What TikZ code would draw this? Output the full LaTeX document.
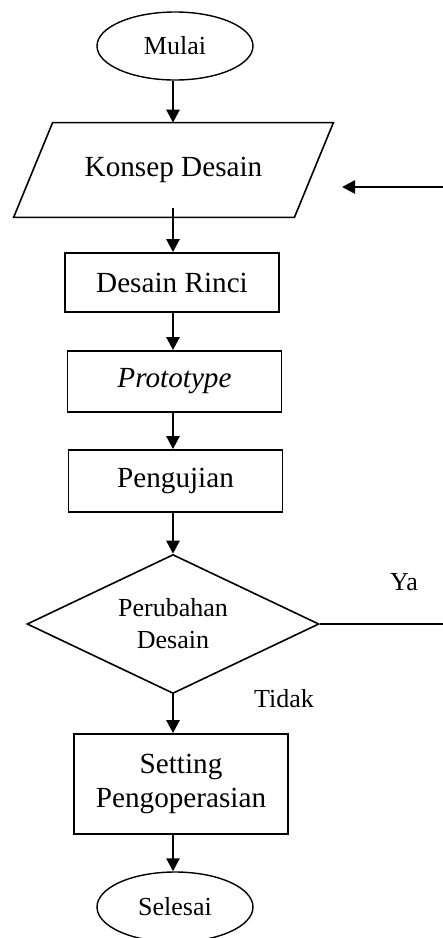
\documentclass[tikz,border=0pt]{standalone}
\usepackage{fontspec}
\setmainfont{Liberation Serif}
\usetikzlibrary{shapes.geometric, arrows.meta, positioning}

\begin{document}
\begin{tikzpicture}[
    x=0.5pt, y=-0.5pt,
    >={Triangle[length=6.5pt, width=6.5pt]},
    % Start / end (ellipse)
    term/.style={
        ellipse, draw, line width=0.7pt, inner sep=0pt,
        minimum width=78pt, minimum height=34pt,
        font=\fontsize{13}{15.5}\selectfont
    },
    % Process boxes
    proc/.style={
        rectangle, draw, line width=0.9pt, align=center,
        minimum width=107pt, minimum height=30pt,
        font=\fontsize{14.6}{17}\selectfont
    },
    % Input (text part of the parallelogram)
    io/.style={
        rectangle, inner sep=0pt,
        minimum width=120.5pt, minimum height=47pt,
        font=\fontsize{14.6}{17}\selectfont
    },
    % Decision
    decide/.style={
        diamond, draw, line width=0.8pt, aspect=2.1, inner sep=1pt,
        minimum width=146pt, minimum height=69.5pt, align=center,
        font=\fontsize{13}{16}\selectfont
    },
    % Flow arrow
    flow/.style={->, line width=1.3pt},
    % Plain return line
    link/.style={line width=0.85pt},
    % Branch label
    lbl/.style={font=\fontsize{13}{15.5}\selectfont},
]

\useasboundingbox (0,0) rectangle (443,938);

% Arrow column and right edge
\coordinate (col) at (173, 0);
\coordinate (edge) at (443, 0);

% Main column
\node[term] (mulai) at (175, 46) {Mulai};
\node[io] (konsep) at (173.5, 170) {Konsep Desain};
\draw[line width=0.8pt] (konsep.north west) -- ([xshift=19.5pt]konsep.north east)
    -- (konsep.south east) -- ([xshift=-19.5pt]konsep.south west) -- cycle;
\node[proc, minimum height=29.5pt] (rinci) at (172, 282.5) {Desain Rinci};
\node[proc, minimum height=30.5pt] (proto) at (174.5, 381.5) {\textit{Prototype}};
\node[proc, minimum height=31pt] (uji) at (175.5, 481) {Pengujian};
\node[decide] (ubah) at (173, 624) {Perubahan\\Desain};
\node[proc, minimum height=50pt] (setting) at (181, 784) {Setting\\Pengoperasian};
\node[term, minimum height=35pt] (selesai) at (175, 907) {Selesai};

% Branch labels
\node[lbl] (ya) at (404, 582) {Ya};
\node[lbl] (tidak) at (284, 699) {Tidak};

% Loop back (runs off the right edge)
\coordinate (backstart) at (443, 187);
\coordinate (backtip) at (342, 187);

% Vertical flow
\draw[flow] (col |- mulai.south) -- (col |- konsep.north);
\draw[flow] ([yshift=4.5pt]col |- konsep.south) -- (col |- rinci.north);
\draw[flow] (col |- rinci.south) -- (col |- proto.north);
\draw[flow] (col |- proto.south) -- (col |- uji.north);
\draw[flow] (col |- uji.south) -- (ubah.north);
\draw[flow] (ubah.south) -- (col |- setting.north);
\draw[flow] (col |- setting.south) -- (col |- selesai.north);

% Ya branch back to Konsep Desain
\draw[link] (ubah.east) -- (ubah.east -| edge);
\draw[flow] (backstart) -- (backtip);

\end{tikzpicture}
\end{document}
